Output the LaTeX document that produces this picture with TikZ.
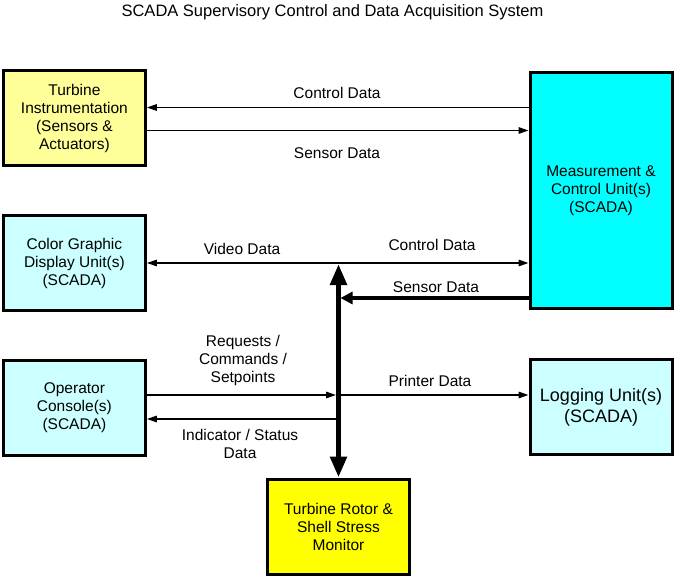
\documentclass[tikz,border=0pt]{standalone}
\usepackage{fontspec}
\setmainfont{Liberation Sans}
\usepackage{tikz}
\usetikzlibrary{positioning}
\usetikzlibrary{arrows.meta,calc}
\definecolor{instyellow}{HTML}{FFFF99}
\definecolor{scadacyan}{HTML}{CCFFFF}
\definecolor{meascyan}{HTML}{00FFFF}
\definecolor{monyellow}{HTML}{FFFF00}
\tikzset{
    %Define standard arrow tip
    >={Triangle[length=10pt,width=6.5pt]},
    % Define arrow style
    pil/.style={
           ->,
           line width=1.5pt},
    % thick data line
    thickpil/.style={
           -{Triangle[length=12pt,width=12pt]},
           line width=4pt,
           shorten >=2pt},
    % system bus
    bus/.style={
           {Triangle[length=21pt,width=16pt]}-{Triangle[length=21pt,width=16pt]},
           line width=5.5pt}
}
\newcommand{\unitwidth}{142pt}
\newcommand{\unitheight}{95pt}

\begin{document}
\begin{tikzpicture}[x=1pt, y=-1pt, node distance=46.5pt]
\tikzstyle{unit}=[draw, rectangle, line width=3pt, minimum height=\unitheight, minimum width=\unitwidth, align=center, font=\fontsize{15.5}{18}\selectfont]
\tikzstyle{lbl}=[align=center, inner sep=0pt, font=\fontsize{15.5}{18}\selectfont]

\useasboundingbox (0,0) rectangle (676,577);

\node[lbl, font=\fontsize{16.5}{19}\selectfont] (title) at (332.5,12) {SCADA Supervisory Control and Data Acquisition System};

\node[unit, fill=instyellow] (turb) at (74.4,118.5) {Turbine\\Instrumentation\\(Sensors \&\\Actuators)};
\node[unit, fill=scadacyan] (disp) [below = of turb] {Color Graphic\\Display Unit(s)\\(SCADA)};
\node[unit, fill=scadacyan] (oper) [below = of disp] {Operator\\Console(s)\\(SCADA)};
\node[unit, fill=meascyan, minimum height=236pt] (meas) at (601,190.5) {Measurement \&\\Control Unit(s)\\(SCADA)};
\node[unit, fill=scadacyan, font=\fontsize{18}{21}\selectfont] (log) [below = 48pt of meas] {Logging Unit(s)\\(SCADA)};
\node[unit, fill=monyellow] (mon) at (338.5,526.5) {Turbine Rotor \&\\Shell Stress\\Monitor};

\coordinate (bustop) at (338.5,264);
\coordinate (ctrlin) at ([yshift=11pt]turb.east);
\coordinate (sensout) at ([yshift=-12pt]turb.east);
\coordinate (sensbus) at ([yshift=12pt]meas.south west);
\coordinate (reqout) at ([yshift=12.5pt]oper.east);
\coordinate (statin) at ([yshift=-11.5pt]oper.east);

% turbine instrumentation
\draw[pil] (ctrlin -| meas.west) -- (ctrlin);
\draw[pil] (sensout) -- (sensout -| meas.west);
\node[lbl] (lctrl) at (337,93) {Control Data};
\node[lbl] (lsens) at (337,153) {Sensor Data};

% display and measurement
\draw[pil,<->] (disp.east) -- (disp.east -| meas.west);
\node[lbl] (lvideo) at (242,249) {Video Data};
\node[lbl] (lctrlb) at (432,245) {Control Data};
\draw[thickpil] (sensbus) -- (sensbus -| bustop);
\node[lbl] (lsensb) at (436,287) {Sensor Data};

% operator and logging
\draw[pil, shorten >=2.5pt] (reqout) -- (reqout -| bustop);
\draw[pil] (reqout -| bustop) -- (reqout -| log.west);
\draw[pil, shorten <=2.5pt] (statin -| bustop) -- (statin);
\node[lbl] (lreq) at (243,360) {Requests /\\Commands /\\Setpoints};
\node[lbl] (lprint) at (430,381) {Printer Data};
\node[lbl] (lstat) at (240,444) {Indicator / Status\\Data};

% bus
\draw[bus] (bustop) -- (mon.north);

\end{tikzpicture}
\end{document}
